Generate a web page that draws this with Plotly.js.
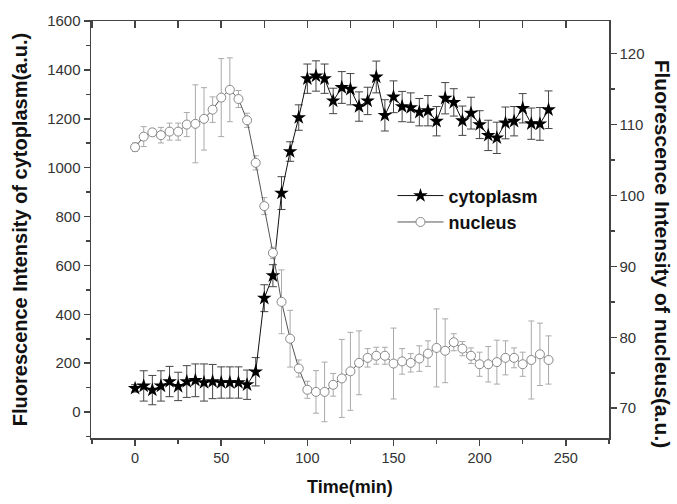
<!DOCTYPE html>
<html><head><meta charset="utf-8">
<script src="https://cdn.plot.ly/plotly-3.0.1.min.js"></script>
<style>html,body{margin:0;padding:0;background:#fff}#chart{width:677px;height:504px}</style>
</head><body><div id="chart"></div>
<script>
const time = [0,5,10,15,20,25,30,35,40,45,50,55,60,65,70,75,80,85,90,95,
  100,105,110,115,120,125,130,135,140,145,150,155,160,165,170,175,
  180,185,190,195,200,205,210,215,220,225,230,235,240];
const cytoplasm = [97,107,90,107,125,105,125,130,121,125,121,121,121,112,165,466,558,896,1066,1205,
  1364,1375,1364,1273,1328,1321,1250,1273,1371,1214,1290,1250,1246,1227,1233,1190,
  1284,1267,1192,1223,1176,1132,1122,1183,1190,1243,1180,1179,1237];
const cytoplasmErr = [15,62,60,62,62,58,65,67,76,70,64,64,64,60,58,55,45,67,40,52,
  60,62,60,52,65,64,60,56,65,64,65,62,60,56,62,60,
  64,56,60,65,57,62,64,65,60,60,64,67,77];
const nucleus = [106.8,108.3,108.9,108.5,109.0,109.0,110.0,110.1,110.8,112.1,113.8,114.9,113.6,110.6,104.6,98.5,91.9,85.0,79.8,75.6,
  72.6,72.3,72.3,73.3,74.2,75.2,76.4,77.1,77.4,77.4,76.3,76.6,76.4,77.0,77.7,78.5,
  78.1,79.3,78.4,77.4,76.2,76.2,76.5,77.1,77.1,76.2,76.8,77.6,76.8];
const nucleusErr = [0.6,1.4,0.5,1.1,1.2,1.2,1.7,5.5,4.4,1.8,5.5,4.5,1.2,1.0,1.0,1.2,0.8,4.5,4.0,1.2,
  1.2,3.0,4.2,1.6,5.5,5.5,4.5,1.3,1.2,1.2,5.0,1.8,1.3,1.8,1.8,5.5,
  4.5,1.2,1.0,1.1,1.7,2.5,3.1,2.4,1.4,1.7,5.5,4.4,3.4];
const xTitle = 'Time(min)';
const yTitle = 'Fluorescence Intensity of cytoplasm(a.u.)';
const y2Title = 'Fluorescence Intensity of nucleus(a.u.)';

const axisCol = '#444';
const fontFam = 'Liberation Sans, Arial, Helvetica, sans-serif';
const xRange = [-25.6, 275.1];

const traces = [
  {x: time, y: nucleus, yaxis: 'y2', name: 'nucleus', mode: 'lines+markers',
   line: {color: '#555', width: 1},
   marker: {symbol: 'circle', size: 9, color: '#fff', line: {color: '#888', width: 1}},
   error_y: {type: 'data', array: nucleusErr, visible: true, color: '#aaa', thickness: 1, width: 3}},
  {x: time, y: cytoplasm, name: 'cytoplasm', mode: 'lines+markers',
   line: {color: '#111', width: 1},
   marker: {symbol: 'star', size: 11, color: '#000'},
   error_y: {type: 'data', array: cytoplasmErr, visible: true, color: '#444', thickness: 1, width: 4}},
  {x: [null], y: [null], xaxis: 'x2', showlegend: false, hoverinfo: 'skip'}
];

const layout = {
  width: 677, height: 504,
  margin: {l: 91, r: 68, t: 15, b: 66},
  paper_bgcolor: '#fff', plot_bgcolor: '#fff',
  font: {family: fontFam, size: 14, color: '#222'},
  showlegend: true,
  legend: {x: 0.582, y: 0.625, xanchor: 'left', yanchor: 'top', traceorder: 'reversed', itemwidth: 46,
    font: {size: 18, weight: 'bold', color: '#111'}, bgcolor: 'rgba(0,0,0,0)'},
  xaxis: {range: xRange, tick0: 0, dtick: 50, ticks: 'outside', ticklen: 6, tickwidth: 1.5, tickcolor: axisCol,
    showline: true, linecolor: axisCol, linewidth: 1.5, showgrid: false, zeroline: false,
    minor: {dtick: 25, tick0: 0, ticks: 'outside', ticklen: 4, tickwidth: 1.5, tickcolor: axisCol},
    tickfont: {size: 14.5, color: '#333'}},
  xaxis2: {overlaying: 'x', side: 'top', range: xRange, tick0: 0, dtick: 50, ticks: 'inside', ticklen: 7, tickwidth: 1.5, tickcolor: axisCol,
    showline: true, linecolor: axisCol, linewidth: 1.5, showgrid: false, zeroline: false, showticklabels: false,
    minor: {dtick: 25, tick0: 0, ticks: 'inside', ticklen: 7, tickwidth: 1.5, tickcolor: axisCol}},
  yaxis: {range: [-106, 1600], tick0: 0, dtick: 200, ticks: 'outside', ticklen: 6, tickwidth: 1.5, tickcolor: axisCol,
    showline: true, linecolor: axisCol, linewidth: 1.5, showgrid: false, zeroline: false,
    minor: {dtick: 100, tick0: 0, ticks: 'outside', ticklen: 4, tickwidth: 1.5, tickcolor: axisCol},
    tickfont: {size: 15, color: '#333'}, automargin: true,
    title: {text: yTitle, standoff: 14, font: {size: 20, weight: 'bold', color: '#111'}}},
  yaxis2: {overlaying: 'y', side: 'right', range: [65.8, 124.6], tick0: 70, dtick: 10, ticks: 'outside', ticklen: 6, tickwidth: 1.5, tickcolor: axisCol,
    showline: true, linecolor: axisCol, linewidth: 1.5, showgrid: false, zeroline: false,
    minor: {dtick: 5, tick0: 70, ticks: 'outside', ticklen: 4, tickwidth: 1.5, tickcolor: axisCol},
    tickfont: {size: 15, color: '#333'}},
  annotations: [
    {text: xTitle, xref: 'paper', yref: 'paper', x: 0.5, y: -0.118, showarrow: false,
     xanchor: 'center', yanchor: 'middle', font: {size: 18, weight: 'bold', color: '#111'}},
    {text: y2Title, xref: 'paper', yref: 'paper', x: 1.104, y: 0.44, textangle: 90, showarrow: false,
     xanchor: 'center', yanchor: 'middle', font: {size: 21, weight: 'bold', color: '#111'}}
  ]
};

Plotly.newPlot('chart', traces, layout, {displayModeBar: false, staticPlot: true});
</script>
</body></html>
